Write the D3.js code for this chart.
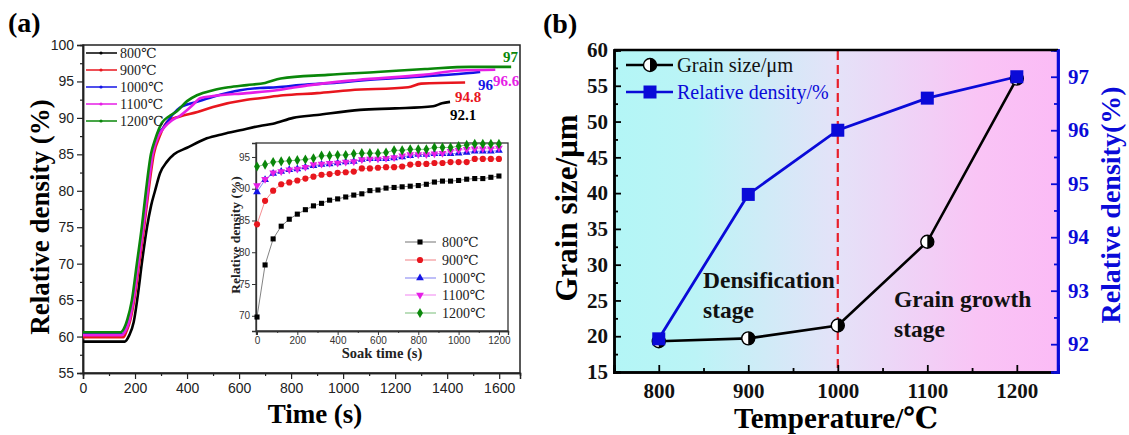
<!DOCTYPE html>
<html><head><meta charset="utf-8">
<script src="https://cdn.jsdelivr.net/npm/d3@7"></script>
<style>body{margin:0;background:#fff}svg{display:block}</style>
</head><body>
<svg id="c" width="1129" height="435"></svg>
<script>
// ---------- DATA ----------
const seriesNames = ["800℃","900℃","1000℃","1100℃","1200℃"];
const seriesColors = ["#000000","#e8161e","#1414e6","#e61ee6","#0a870a"];
const endLabels = ["92.1","94.8","96","96.6","97"];

// main panel (a): [time s, relative density %]
const curve800 = [[0,59.3],[160,59.3],[178,60.2],[195,62],[212,66],[226,70],[246,75],[262,78],[277,80],[296,82.4],[323,84],[350,85],[400,85.9],[450,86.8],[476,87.2],[540,87.8],[604,88.3],[680,88.9],[731,89.2],[808,90],[900,90.4],[1065,91.1],[1200,91.3],[1346,91.6],[1380,92.0],[1411,92.2]];
const curve900 = [[0,59.9],[155,59.9],[168,60.8],[180,62],[197,65],[216,70],[235,75],[252,80],[272,85],[295,87.5],[327,89.6],[373,90.2],[440,90.8],[500,91.5],[630,92.5],[680,92.7],[770,93.1],[900,93.4],[1027,93.8],[1250,94.2],[1300,94.7],[1469,94.85]];
const curve1000 = [[0,60.3],[150,60.3],[165,61],[175,62],[192,65],[211,70],[230,75],[247,80],[266,85],[285,87.5],[308,88.6],[346,90.5],[373,91.4],[438,92.2],[500,92.9],[604,93.8],[680,94.1],[745,94.2],[835,94.5],[1000,94.9],[1092,95.2],[1308,95.7],[1500,96.2],[1527,96.3]];
const curve1100 = [[0,60.2],[150,60.2],[166,61],[177,62],[194,65],[213,70],[232,75],[249,80],[268,85],[290,87.5],[315,88.8],[340,89.6],[373,90.3],[423,91.8],[450,92.7],[500,93],[630,93.4],[745,93.8],[800,94.1],[873,94.5],[1053,95.2],[1308,95.9],[1450,96.5],[1585,96.6]];
const curve1200 = [[0,60.6],[145,60.6],[160,61.3],[170,62.3],[188,65],[207,70],[226,75],[242,80],[261,85],[277,87],[303,89.3],[330,90.2],[361,90.9],[400,92.3],[438,93.1],[500,93.8],[560,94.2],[630,94.5],[700,94.8],[760,95.4],[940,95.9],[1130,96.3],[1315,96.7],[1490,97.0],[1646,97.0]];
const mainCurves = [curve800, curve900, curve1000, curve1100, curve1200];

// inset: soak time vs density
const soakTimes = [0,40,80,120,160,200,240,280,320,360,400,440,480,520,560,600,640,680,720,760,800,840,880,920,960,1000,1040,1080,1120,1160,1200];
const inset800 = [69.8,78.0,82.1,84.1,85.2,86.0,86.7,87.3,87.7,88.2,88.4,88.7,89.0,89.2,89.7,89.8,90.1,90.2,90.3,90.4,90.5,90.7,91.05,91.2,91.2,91.3,91.5,91.6,91.6,91.8,92.0];
const inset900 = [84.4,88.1,89.7,90.7,91.0,91.3,91.6,91.9,92.2,92.3,92.5,92.6,92.7,93.2,93.2,93.3,93.4,93.4,93.5,93.8,93.9,93.9,94.05,94.05,94.2,94.2,94.2,94.7,94.7,94.7,94.7];
const inset1000 = [89.5,91.4,92.4,92.7,93.0,93.1,93.4,93.6,93.8,93.9,94.05,94.2,94.3,94.6,94.7,94.7,94.7,94.85,95.0,95.2,95.4,95.4,95.5,95.5,95.5,95.6,95.7,95.9,95.9,95.9,96.0];
const inset1100 = [90.5,91.5,92.5,92.7,93.0,93.1,93.4,93.8,93.9,94.0,94.05,94.2,94.3,94.6,94.7,94.7,94.8,94.9,95.2,95.4,95.4,95.4,95.5,95.6,95.9,96.05,96.2,96.3,96.3,96.3,96.4];
const inset1200 = [93.5,93.8,94.2,94.3,94.4,94.5,94.6,94.8,95.2,95.2,95.3,95.3,95.5,95.6,95.6,95.6,95.7,96.05,96.05,96.2,96.2,96.2,96.5,96.5,96.5,96.7,96.9,97.05,97.05,97.05,97.05];
const insetSeries = [inset800, inset900, inset1000, inset1100, inset1200];

// panel (b)
const temperatures = [800,900,1000,1100,1200];
const grainSize = [19.3,19.7,21.5,33.2,56.0];
const relDensity = [92.1,94.8,96.0,96.6,97.0];

// ticks
const aXTicks = [0,200,400,600,800,1000,1200,1400,1600];
const aXMinor = [100,300,500,700,900,1100,1300,1500];
const aYTicks = [55,60,65,70,75,80,85,90,95,100];
const aYMinor = [57.5,62.5,67.5,72.5,77.5,82.5,87.5,92.5,97.5];
const iXTicks = [0,200,400,600,800,1000,1200];
const iXMinor = [100,300,500,700,900,1100];
const iYTicks = [70,75,80,85,90,95];
const bXTicks = [800,900,1000,1100,1200];
const bXMinor = [850,950,1050,1150];
const bYLTicks = [15,20,25,30,35,40,45,50,55,60];
const bYLMinor = [17.5,22.5,27.5,32.5,37.5,42.5,47.5,52.5,57.5];
const bYRTicks = [92,93,94,95,96,97];
const bYRMinor = [92.5,93.5,94.5,95.5,96.5];

// ---------- DRAW ----------
const svg = d3.select("#c");
const SERIF = "'Liberation Serif','Times New Roman',serif";
const SERIFC = "'Liberation Serif','DejaVu Serif','Noto Sans CJK SC',serif";
const SANS = "'Liberation Sans',Arial,sans-serif";
const fmtD = d3.format("d");

// ===== Panel (a) =====
const xA = d3.scaleLinear().domain([0,1680]).range([83,520]);
const yA = d3.scaleLinear().domain([55,100]).range([373,45]);
const gA = svg.append("g");

gA.append("rect").attr("x",83).attr("y",45).attr("width",520-83).attr("height",373-45)
  .attr("fill","none").attr("stroke","#222").attr("stroke-width",1.5);

gA.append("g").attr("transform","translate(0,373)")
  .call(d3.axisBottom(xA).tickValues(aXTicks).tickSize(6).tickPadding(4).tickFormat(fmtD));
gA.append("g").attr("transform","translate(0,373)")
  .call(d3.axisBottom(xA).tickValues(aXMinor).tickSize(3).tickFormat(""));
gA.append("g").attr("transform","translate(83,0)")
  .call(d3.axisLeft(yA).tickValues(aYTicks).tickSize(6).tickPadding(3).tickFormat(fmtD));
gA.append("g").attr("transform","translate(83,0)")
  .call(d3.axisLeft(yA).tickValues(aYMinor).tickSize(3).tickFormat(""));
gA.selectAll(".domain").attr("stroke","#222").attr("stroke-width",1.5);
gA.selectAll(".tick line").attr("stroke","#222").attr("stroke-width",1.2);
gA.selectAll(".tick text").attr("font-family",SANS).attr("font-size",14).attr("fill","#222");

const lineA = d3.line().x(d=>xA(d[0])).y(d=>yA(d[1])).curve(d3.curveMonotoneX);
mainCurves.forEach((c,i)=>{
  gA.append("path").attr("d",lineA(c)).attr("fill","none")
    .attr("stroke",seriesColors[i]).attr("stroke-width",2.6).attr("stroke-linejoin","round");
});

const endPos = [[450,120],[455,102],[478,90],[493,86],[503,62]];
endLabels.forEach((t,i)=>{
  gA.append("text").attr("x",endPos[i][0]).attr("y",endPos[i][1]).text(t)
    .attr("font-family",SERIF).attr("font-weight","bold").attr("font-size",15).attr("fill",seriesColors[i]);
});

const legAY = [53,70,87,104,121];
seriesNames.forEach((n,i)=>{
  gA.append("line").attr("x1",86).attr("x2",117).attr("y1",legAY[i]).attr("y2",legAY[i])
    .attr("stroke",seriesColors[i]).attr("stroke-width",1.5);
  gA.append("circle").attr("cx",101).attr("cy",legAY[i]).attr("r",1.6).attr("fill",seriesColors[i]);
  gA.append("text").attr("x",120).attr("y",legAY[i]+5).text(n)
    .attr("font-family",SERIFC).attr("font-size",14).attr("fill","#222");
});

svg.append("text").attr("x",8).attr("y",32).text("(a)")
  .attr("font-family",SERIF).attr("font-weight","bold").attr("font-size",28);
svg.append("text").attr("transform","translate(49,217) rotate(-90)").attr("text-anchor","middle")
  .text("Relative density (%)").attr("font-family",SERIF).attr("font-weight","bold").attr("font-size",27);
svg.append("text").attr("x",315).attr("y",423).attr("text-anchor","middle")
  .text("Time (s)").attr("font-family",SERIF).attr("font-weight","bold").attr("font-size",27);

// ===== Inset =====
const xI = d3.scaleLinear().domain([-5,1245]).range([256,508]);
const yI = d3.scaleLinear().domain([67.6,97.2]).range([331,143]);
const gI = svg.append("g");
gI.append("rect").attr("x",256).attr("y",143).attr("width",508-256).attr("height",331-143)
  .attr("fill","#fff").attr("stroke","#333").attr("stroke-width",1.3);
gI.append("g").attr("transform","translate(0,331)")
  .call(d3.axisBottom(xI).tickValues(iXTicks).tickSize(4).tickPadding(2).tickFormat(fmtD));
gI.append("g").attr("transform","translate(0,331)")
  .call(d3.axisBottom(xI).tickValues(iXMinor).tickSize(2).tickFormat(""));
gI.append("g").attr("transform","translate(256,0)")
  .call(d3.axisLeft(yI).tickValues(iYTicks).tickSize(4).tickPadding(2).tickFormat(fmtD));
gI.selectAll(".domain").attr("stroke","#333").attr("stroke-width",1.3);
gI.selectAll(".tick line").attr("stroke","#333");
gI.selectAll(".tick text").attr("font-family",SANS).attr("font-size",10).attr("fill","#333");

const symTypes = [d3.symbolSquare, d3.symbolCircle, d3.symbolTriangle, d3.symbolTriangle, d3.symbolDiamond];
const symRot = [0,0,0,180,0];
const symSize = [26,30,26,26,30];
const lineI = d3.line().x((d,j)=>xI(soakTimes[j])).y(d=>yI(d));
insetSeries.forEach((s,i)=>{
  gI.append("path").attr("d",lineI(s)).attr("fill","none")
    .attr("stroke",seriesColors[i]).attr("stroke-opacity",0.55).attr("stroke-width",0.9);
  gI.selectAll(null).data(s).enter().append("path")
    .attr("d",d3.symbol().type(symTypes[i]).size(symSize[i]))
    .attr("transform",(d,j)=>`translate(${xI(soakTimes[j])},${yI(d)}) rotate(${symRot[i]})`)
    .attr("fill",seriesColors[i]);
});
const legIY = [242,260,278,295,313];
seriesNames.forEach((n,i)=>{
  gI.append("line").attr("x1",405).attr("x2",436).attr("y1",legIY[i]).attr("y2",legIY[i])
    .attr("stroke",seriesColors[i]).attr("stroke-opacity",0.55).attr("stroke-width",1);
  gI.append("path").attr("d",d3.symbol().type(symTypes[i]).size(symSize[i]))
    .attr("transform",`translate(420,${legIY[i]}) rotate(${symRot[i]})`).attr("fill",seriesColors[i]);
  gI.append("text").attr("x",442).attr("y",legIY[i]+5).text(n)
    .attr("font-family",SERIFC).attr("font-size",14).attr("fill","#222");
});
gI.append("text").attr("x",382).attr("y",358).attr("text-anchor","middle").text("Soak time (s)")
  .attr("font-family",SERIF).attr("font-weight","bold").attr("font-size",14.5).attr("fill","#222");
gI.append("text").attr("transform","translate(240,235) rotate(-90)").attr("text-anchor","middle")
  .text("Relative density (%)").attr("font-family",SERIF).attr("font-weight","bold").attr("font-size",13.5).attr("fill","#222");

// ===== Panel (b) =====
const xB = d3.scaleLinear().domain([750,1246]).range([614,1058]);
const yBL = d3.scaleLinear().domain([15,60]).range([372,50]);
const yBR = d3.scaleLinear().domain([91.48,97.5]).range([372,50]);
const gB = svg.append("g");
const BLUE = "#0a0ad8";

const defs = svg.append("defs");
const grad = defs.append("linearGradient").attr("id","bg").attr("x1","0").attr("x2","1").attr("y1","0").attr("y2","0");
[["0%","#b3f6f6"],["18%","#bbf4f6"],["50%","#e4e2f8"],["82%","#f9c4f5"],["100%","#fbbbf6"]].forEach(s=>
  grad.append("stop").attr("offset",s[0]).attr("stop-color",s[1]));
gB.append("rect").attr("x",614).attr("y",50).attr("width",1058-614).attr("height",372-50).attr("fill","url(#bg)");

gB.append("line").attr("x1",xB(1000)).attr("x2",xB(1000)).attr("y1",51).attr("y2",371)
  .attr("stroke","#e8202a").attr("stroke-width",2.2).attr("stroke-dasharray","9,5");

gB.append("g").attr("transform","translate(0,372)")
  .call(d3.axisBottom(xB).tickValues(bXTicks).tickSize(-7).tickPadding(11).tickFormat(fmtD));
gB.append("g").attr("transform","translate(0,372)")
  .call(d3.axisBottom(xB).tickValues(bXMinor).tickSize(-4).tickFormat(""));
gB.append("g").attr("transform","translate(614,0)")
  .call(d3.axisLeft(yBL).tickValues(bYLTicks).tickSize(-7).tickPadding(6).tickFormat(fmtD));
gB.append("g").attr("transform","translate(614,0)")
  .call(d3.axisLeft(yBL).tickValues(bYLMinor).tickSize(-4).tickFormat(""));
gB.append("g").attr("class","right").attr("transform","translate(1058,0)")
  .call(d3.axisRight(yBR).tickValues(bYRTicks).tickSize(-7).tickPadding(10).tickFormat(fmtD));
gB.append("g").attr("class","right").attr("transform","translate(1058,0)")
  .call(d3.axisRight(yBR).tickValues(bYRMinor).tickSize(-4).tickFormat(""));
gB.selectAll(".domain").attr("stroke","#000").attr("stroke-width",2.5);
gB.selectAll(".tick line").attr("stroke","#000").attr("stroke-width",1.8);
gB.selectAll(".right .domain, .right .tick line").attr("stroke",BLUE);
gB.selectAll(".tick text").attr("font-family",SERIF).attr("font-weight","bold").attr("font-size",21).attr("fill","#111");
gB.selectAll(".right .tick text").attr("fill",BLUE);
gB.append("line").attr("x1",614).attr("x2",1058).attr("y1",50).attr("y2",50).attr("stroke","#000").attr("stroke-width",2.5);
gB.append("line").attr("x1",1058).attr("x2",1058).attr("y1",50).attr("y2",372).attr("stroke",BLUE).attr("stroke-width",2.5);

const stageTxt = [["Densification",703,288],["stage",703,318],["Grain growth",894,307],["stage",894,337]];
stageTxt.forEach(t=>gB.append("text").attr("x",t[1]).attr("y",t[2]).text(t[0])
  .attr("font-family",SERIF).attr("font-weight","bold").attr("font-size",23.5).attr("fill","#111"));

const lineGS = d3.line().x((d,i)=>xB(temperatures[i])).y(d=>yBL(d));
const lineRD = d3.line().x((d,i)=>xB(temperatures[i])).y(d=>yBR(d));
gB.append("path").attr("d",lineGS(grainSize)).attr("fill","none").attr("stroke","#000").attr("stroke-width",2.6);
gB.append("path").attr("d",lineRD(relDensity)).attr("fill","none").attr("stroke",BLUE).attr("stroke-width",2.8);

function halfCircle(g,cx,cy,r){
  g.append("circle").attr("cx",cx).attr("cy",cy).attr("r",r).attr("fill","#fff").attr("stroke","#000").attr("stroke-width",1.4);
  g.append("path").attr("d",`M${cx},${cy-r} A${r},${r} 0 0 1 ${cx},${cy+r} Z`).attr("fill","#000");
}
grainSize.forEach((v,i)=>halfCircle(gB,xB(temperatures[i]),yBL(v),6.5));
relDensity.forEach((v,i)=>{
  gB.append("rect").attr("x",xB(temperatures[i])-6.5).attr("y",yBR(v)-6.5).attr("width",13).attr("height",13).attr("fill",BLUE);
});

gB.append("line").attr("x1",626).attr("x2",673).attr("y1",65).attr("y2",65).attr("stroke","#000").attr("stroke-width",2.5);
halfCircle(gB,650,65,6.5);
gB.append("text").attr("x",677).attr("y",72).text("Grain size/μm").attr("font-family",SERIF).attr("font-size",20.5).attr("fill","#111");
gB.append("line").attr("x1",626).attr("x2",673).attr("y1",92).attr("y2",92).attr("stroke",BLUE).attr("stroke-width",2.5);
gB.append("rect").attr("x",643.5).attr("y",85.5).attr("width",13).attr("height",13).attr("fill",BLUE);
gB.append("text").attr("x",677).attr("y",99).text("Relative density/%").attr("font-family",SERIF).attr("font-size",20).attr("fill",BLUE);

svg.append("text").attr("x",543).attr("y",33).text("(b)")
  .attr("font-family",SERIF).attr("font-weight","bold").attr("font-size",28);
svg.append("text").attr("transform","translate(577,208) rotate(-90)").attr("text-anchor","middle")
  .text("Grain size/μm").attr("font-family",SERIF).attr("font-weight","bold").attr("font-size",31);
svg.append("text").attr("transform","translate(1120,205) rotate(-90)").attr("text-anchor","middle")
  .text("Relative density(%)").attr("font-family",SERIF).attr("font-weight","bold").attr("font-size",28).attr("fill",BLUE);
svg.append("text").attr("x",836).attr("y",428).attr("text-anchor","middle")
  .text("Temperature/℃").attr("font-family",SERIFC).attr("font-weight","bold").attr("font-size",29);
</script>
</body></html>
